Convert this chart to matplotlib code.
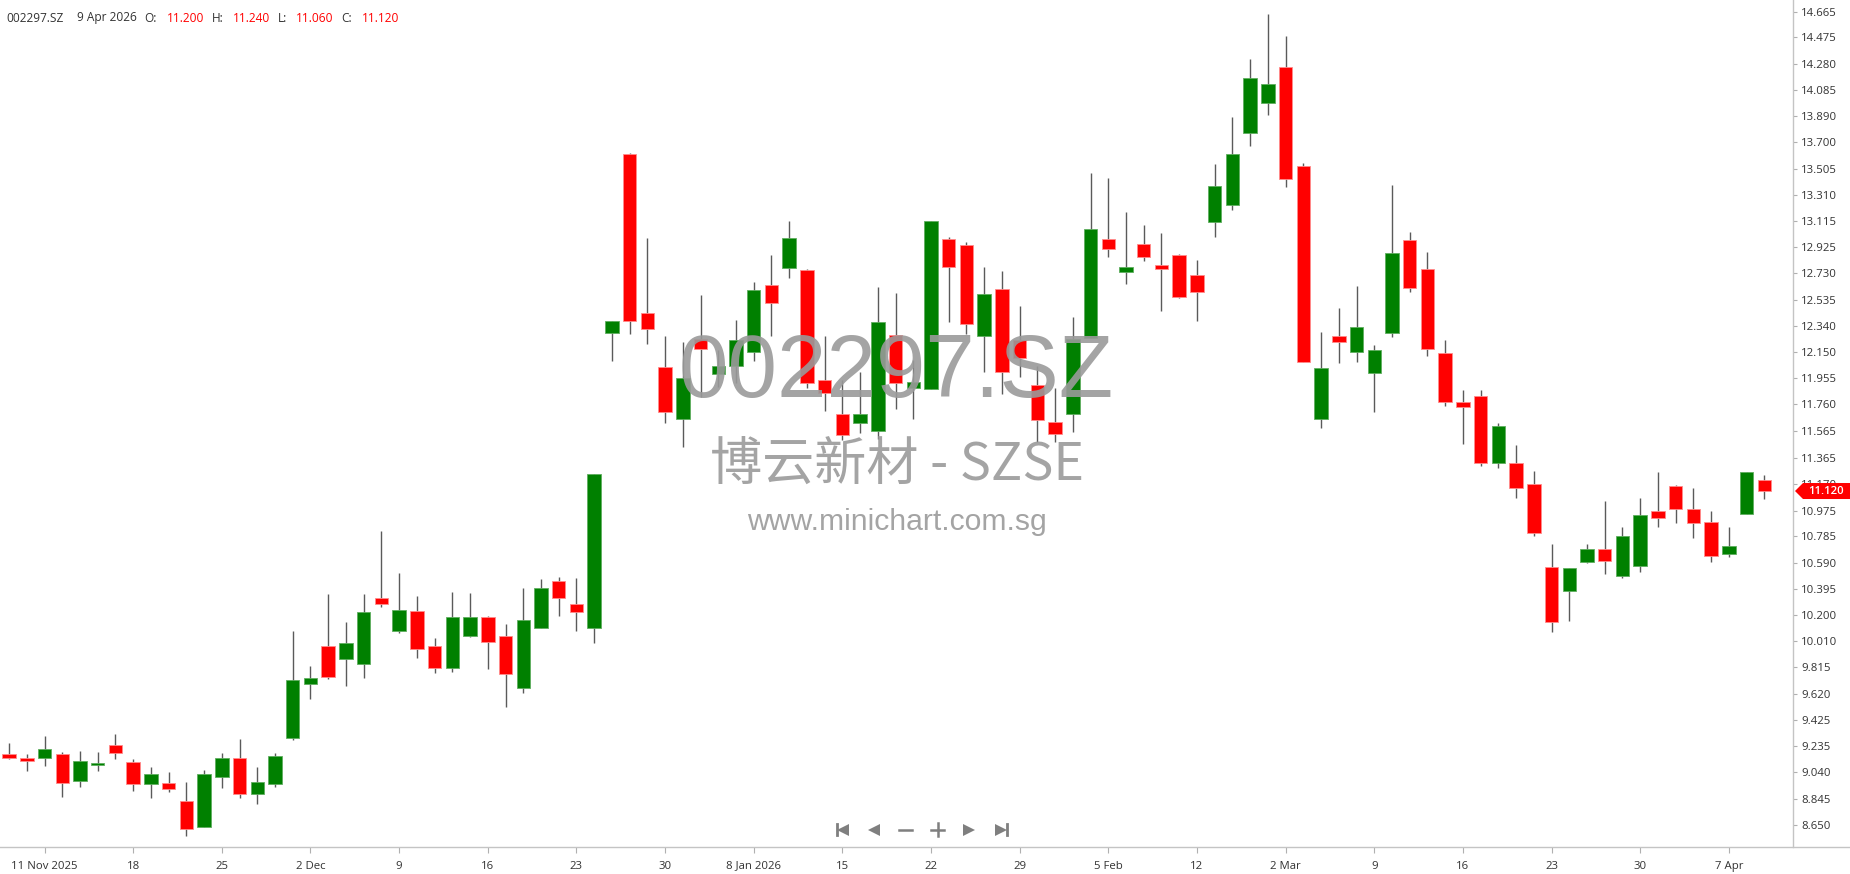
import matplotlib
matplotlib.use("Agg")
import matplotlib.pyplot as plt
from matplotlib.lines import Line2D
from matplotlib.patches import Polygon
import numpy as np

# ---------------- data ----------------
symbol = "002297.SZ"
name_line = "博云新材 - SZSE"
site = "www.minichart.com.sg"
last_date = "9 Apr 2026"

opens = [9.173, 9.143, 9.143, 9.173, 8.978, 9.095, 9.244, 9.113, 8.951, 8.958,
         8.830, 8.638, 9.007, 9.143, 8.877, 8.951, 9.293, 9.690, 9.976, 9.875,
         9.838, 10.326, 10.087, 10.233, 9.976, 9.811, 10.048, 10.188, 10.050, 9.661,
         10.104, 10.457, 10.282, 10.104, 12.291, 13.615, 12.434, 12.035, 11.650, 12.242,
         11.983, 12.047, 12.151, 12.646, 12.769, 12.755, 11.943, 11.692, 11.623, 11.566,
         12.276, 11.884, 11.874, 12.986, 12.939, 12.269, 12.617, 12.237, 11.904, 11.628,
         11.687, 12.249, 12.986, 12.742, 12.947, 12.794, 12.866, 12.718, 13.110, 13.238,
         13.765, 13.987, 14.253, 13.524, 11.650, 12.267, 12.146, 11.990, 12.286, 12.977,
         12.764, 12.138, 11.776, 11.820, 11.325, 11.325, 11.170, 10.558, 10.383, 10.593,
         10.689, 10.492, 10.568, 10.972, 11.157, 10.985, 10.889, 10.652, 10.948, 11.200]
highs = [9.254, 9.173, 9.311, 9.187, 9.200, 9.187, 9.320, 9.136, 9.076, 9.040,
         8.965, 9.057, 9.180, 9.283, 9.079, 9.180, 10.087, 9.826, 10.356, 10.149,
         10.356, 10.827, 10.511, 10.346, 10.030, 10.373, 10.363, 10.198, 10.134, 10.400,
         10.467, 10.484, 10.474, 11.243, 12.380, 13.622, 12.989, 12.267, 12.220, 12.572,
         12.163, 12.385, 12.663, 12.866, 13.117, 12.762, 12.267, 11.941, 11.998, 12.626,
         12.582, 12.089, 13.117, 12.996, 12.964, 12.777, 12.745, 12.488, 12.045, 11.879,
         12.405, 13.470, 13.433, 13.181, 13.087, 13.026, 12.873, 12.829, 13.541, 13.884,
         14.318, 14.650, 14.485, 13.548, 12.294, 12.471, 12.636, 12.200, 13.383, 13.033,
         12.885, 12.237, 11.867, 11.867, 11.621, 11.460, 11.268, 10.726, 10.548, 10.726,
         11.046, 10.851, 11.066, 11.258, 11.165, 11.140, 10.972, 10.851, 11.258, 11.240]
lows = [9.136, 9.052, 9.089, 8.860, 8.933, 9.052, 9.136, 8.904, 8.850, 8.897,
        8.571, 8.638, 8.924, 8.850, 8.805, 8.933, 9.281, 9.579, 9.732, 9.680,
        9.735, 10.265, 10.067, 9.882, 9.774, 9.784, 10.043, 9.801, 9.523, 9.624,
        10.104, 10.198, 10.087, 9.993, 12.084, 12.279, 12.205, 11.621, 11.448, 11.818,
        11.892, 11.916, 12.084, 12.269, 12.693, 11.879, 11.712, 11.500, 11.547, 11.505,
        11.724, 11.650, 11.874, 12.368, 12.281, 12.003, 11.835, 11.966, 11.480, 11.480,
        11.559, 12.249, 12.853, 12.649, 12.824, 12.454, 12.545, 12.380, 12.996, 13.201,
        13.674, 13.901, 13.366, 12.074, 11.584, 12.064, 12.074, 11.704, 12.262, 12.589,
        12.121, 11.749, 11.465, 11.308, 11.288, 11.066, 10.790, 10.077, 10.161, 10.585,
        10.504, 10.474, 10.519, 10.851, 10.881, 10.770, 10.598, 10.634, 10.948, 11.060]
closes = [9.143, 9.126, 9.210, 8.963, 9.126, 9.102, 9.185, 8.951, 9.025, 8.914,
          8.620, 9.025, 9.143, 8.877, 8.968, 9.163, 9.725, 9.735, 9.745, 9.993,
          10.225, 10.282, 10.243, 9.949, 9.811, 10.188, 10.188, 10.003, 9.764, 10.169,
          10.400, 10.326, 10.225, 11.243, 12.375, 12.380, 12.316, 11.707, 11.953, 12.168,
          12.045, 12.237, 12.607, 12.508, 12.989, 11.919, 11.845, 11.534, 11.692, 12.368,
          11.919, 11.924, 13.117, 12.779, 12.355, 12.580, 12.003, 12.101, 11.645, 11.542,
          12.242, 13.060, 12.907, 12.774, 12.853, 12.760, 12.557, 12.594, 13.376, 13.615,
          14.177, 14.133, 13.425, 12.074, 12.027, 12.222, 12.331, 12.165, 12.883, 12.619,
          12.168, 11.778, 11.741, 11.325, 11.601, 11.140, 10.807, 10.151, 10.548, 10.689,
          10.605, 10.787, 10.943, 10.918, 10.985, 10.881, 10.642, 10.713, 11.258, 11.120]

x_tick_labels = ["11 Nov 2025", "18", "25", "2 Dec", "9", "16", "23", "30",
                 "8 Jan 2026", "15", "22", "29", "5 Feb", "12", "2 Mar", "9",
                 "16", "23", "30", "7 Apr"]
y_tick_labels = ["14.665", "14.475", "14.280", "14.085", "13.890", "13.700", "13.505",
                 "13.310", "13.115", "12.925", "12.730", "12.535", "12.340", "12.150",
                 "11.955", "11.760", "11.565", "11.365", "11.170", "10.975", "10.785",
                 "10.590", "10.395", "10.200", "10.010", "9.815", "9.620", "9.425",
                 "9.235", "9.040", "8.845", "8.650"]

# ---------------- figure ----------------
W, H = 1850, 874
fig = plt.figure(figsize=(W / 100, H / 100), dpi=100)
fig.patch.set_facecolor("white")

ax_bottom_px = 846.7  # top-down pixel of the bottom axis line
ax_right_px = 1793
ax = fig.add_axes([0, (H - ax_bottom_px) / H, ax_right_px / W, ax_bottom_px / H])
ax.set_facecolor("white")

o = np.array(opens); h = np.array(highs); l = np.array(lows); c = np.array(closes)
x = np.arange(len(o))
up = c >= o
RED, GREEN = "#ff0000", "#008000"
body_col = np.where(up, GREEN, RED)
edge_col = np.where(up, "#5fae5f", "#ff8c8c")

ax.vlines(x, l, h, color="#5a5a5a", linewidth=1.0, zorder=1)
heights = np.maximum(np.abs(c - o), 0.012)
bottoms = np.minimum(o, c)
ax.bar(x, heights, bottom=bottoms, width=0.76, color=body_col,
       edgecolor=edge_col, linewidth=0.6, zorder=2)

ax.set_xlim(-0.513, 100.62)
ax.set_ylim(8.4894, 14.7515)

for s in ["top", "left", "bottom"]:
    ax.spines[s].set_visible(False)
ax.spines["right"].set_color("#c4c4c4")
ax.spines["right"].set_linewidth(1.0)

# y ticks on right
ax.yaxis.tick_right()
yt = [float(v) for v in y_tick_labels]
ax.set_yticks(yt)
ax.set_yticklabels(y_tick_labels)
ax.tick_params(axis="y", which="both", direction="out", length=3, width=0.8,
               color="#b0b0b0", pad=3, labelsize=8.2, labelcolor="#333333")

# x ticks
xt = np.arange(2, 2 + 5 * len(x_tick_labels), 5)
ax.set_xticks(xt)
ax.set_xticklabels(x_tick_labels)
ax.tick_params(axis="x", which="both", direction="out", length=4, width=0.8,
               color="#b0b0b0", pad=6, labelsize=8.2, labelcolor="#333333")
for lab in ax.get_xticklabels() + ax.get_yticklabels():
    lab.set_fontfamily("Open Sans")

# bottom line spanning full width
fig.add_artist(Line2D([0, 1], [(H - ax_bottom_px) / H] * 2, transform=fig.transFigure,
                      color="#c4c4c4", linewidth=1.0))

# watermark
wm_color = "#9a9a9a"
ax.text(0.5, (ax_bottom_px - 396.7) / ax_bottom_px, symbol, transform=ax.transAxes,
        ha="center", va="baseline", fontsize=64, color=wm_color, alpha=0.9,
        family=["Liberation Sans", "DejaVu Sans"], zorder=5)
ax.text(0.5, (ax_bottom_px - 480) / ax_bottom_px, name_line, transform=ax.transAxes,
        ha="center", va="baseline", fontsize=37.5, color=wm_color, alpha=0.9,
        family=["Noto Sans CJK SC", "DejaVu Sans"], zorder=5)
ax.text(0.5, (ax_bottom_px - 530) / ax_bottom_px, site, transform=ax.transAxes,
        ha="center", va="baseline", fontsize=21.7, color=wm_color, alpha=0.9,
        family=["Liberation Sans", "DejaVu Sans"], zorder=5)

# header
hdr_y = 1 - 18 / H
dark = "#333333"
items = [(6.7, symbol, dark), (77, last_date, dark), (144, "O:", dark),
         (167, f"{opens[-1]:.3f}", RED), (212, "H:", dark), (233, f"{highs[-1]:.3f}", RED),
         (278, "L:", dark), (296, f"{lows[-1]:.3f}", RED), (341, "C:", dark),
         (362, f"{closes[-1]:.3f}", RED)]
for px, txt, col in items:
    fig.text(px / W, hdr_y, txt, ha="left", va="center", fontsize=8.6, color=col,
             family="Open Sans")

# last price badge
fig.canvas.draw()
yc = ax.transData.transform((0, closes[-1]))[1]
bh = 8
poly = Polygon([[1795, yc], [1803, yc + bh], [1850, yc + bh], [1850, yc - bh], [1803, yc - bh]],
               closed=True, transform=None, facecolor=RED, edgecolor="none", zorder=10)
fig.add_artist(poly)
fig.text(1826 / W, yc / H, f"{closes[-1]:.3f}", ha="center", va="center", fontsize=8.2,
         color="white", family="Open Sans", weight="semibold", zorder=11)

# navigation icons
nav_y = (H - 829.5) / H
gray = "#7f7f7f"
def fx(px):
    return px / W
def mk(px, marker, ms, mew=0):
    fig.add_artist(Line2D([fx(px)], [nav_y], transform=fig.transFigure, marker=marker,
                          markersize=ms, color=gray, markeredgewidth=mew, linestyle="none"))
mk(843, "<", 8.5); fig.add_artist(Line2D([fx(837)] * 2, [nav_y - 5.5 / H, nav_y + 5.5 / H],
                                          transform=fig.transFigure, color=gray, linewidth=2))
mk(874, "<", 8.5)
fig.add_artist(Line2D([fx(899), fx(912)], [nav_y, nav_y], transform=fig.transFigure, color=gray, linewidth=1.8))
fig.add_artist(Line2D([fx(931), fx(944)], [nav_y, nav_y], transform=fig.transFigure, color=gray, linewidth=1.8))
fig.add_artist(Line2D([fx(937.5)] * 2, [nav_y - 6.5 / H, nav_y + 6.5 / H], transform=fig.transFigure, color=gray, linewidth=1.8))
mk(969, ">", 8.5)
mk(1001, ">", 8.5); fig.add_artist(Line2D([fx(1007)] * 2, [nav_y - 5.5 / H, nav_y + 5.5 / H],
                                           transform=fig.transFigure, color=gray, linewidth=2))

fig.savefig("out.png", dpi=100, facecolor="white")
